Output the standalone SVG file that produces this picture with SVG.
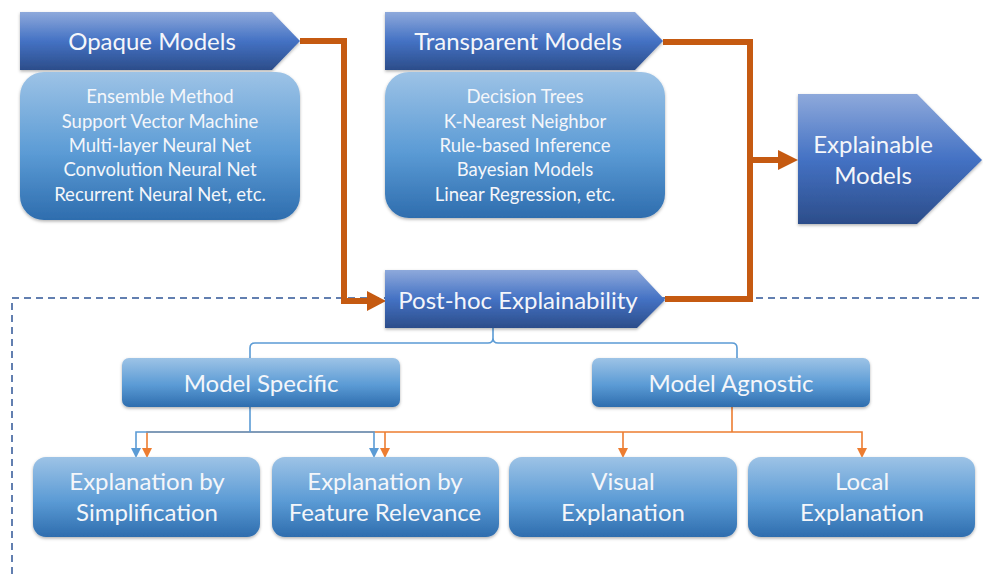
<svg xmlns="http://www.w3.org/2000/svg" width="983" height="574" viewBox="0 0 983 574">
<defs>
<linearGradient id="gHead" x1="0" y1="0" x2="0" y2="1">
<stop offset="0" stop-color="#8EA9DB"/>
<stop offset="0.5" stop-color="#4472C4"/>
<stop offset="1" stop-color="#2C4D8A"/>
</linearGradient>
<linearGradient id="gBox" x1="0" y1="0" x2="0" y2="1">
<stop offset="0" stop-color="#9DC3E6"/>
<stop offset="0.55" stop-color="#5B9BD5"/>
<stop offset="1" stop-color="#2E6DAE"/>
</linearGradient>
<filter id="sh" x="-10%" y="-10%" width="120%" height="130%">
<feDropShadow dx="0" dy="1.5" stdDeviation="1.5" flood-color="#000" flood-opacity="0.3"/>
</filter>
</defs>
<style>
.head{fill:url(#gHead);filter:url(#sh)}
.box{fill:url(#gBox);filter:url(#sh)}
text{font-family:Lato,"Open Sans","Liberation Sans",sans-serif;fill:#F4F6FA;text-anchor:middle}
.t1{font-size:24px}
.t2{font-size:18.5px}
.t3{font-size:24px}
.orange{fill:none;stroke:#C55A11;stroke-width:6}
.dash{fill:none;stroke:#2F5597;stroke-width:1.5;stroke-dasharray:7 5}
.thinb{fill:none;stroke:#5B9BD5;stroke-width:1.6}
.thino{fill:none;stroke:#ED7D31;stroke-width:1.6}
</style>
<rect width="983" height="574" fill="#FFFFFF"/>
<g id="connectors">
<path class="dash" d="M12,574 V298 H983"/>
<path class="orange" d="M300,41 H344 V301 H370"/>
<polygon points="367,291 386,301 367,311" fill="#C55A11"/>
<path class="orange" d="M663,42 H750 V299 H665"/>
<path class="orange" d="M750,160 H781"/>
<polygon points="778,150 798,160 778,170" fill="#C55A11"/>
<path class="thinb" d="M250,358 V348 Q250,343 255,343 H488 Q493,343 493,338 V328 M493,338 Q493,343 498,343 H732 Q737,343 737,348 V358"/>
<path class="thino" d="M732,407 V432 M147,449 V432 H862 V449 M385,432 V449 M623,432 V449"/>
<polygon points="142,448 152,448 147,458" fill="#ED7D31"/>
<polygon points="380,448 390,448 385,458" fill="#ED7D31"/>
<polygon points="618,448 628,448 623,458" fill="#ED7D31"/>
<polygon points="857,448 867,448 862,458" fill="#ED7D31"/>
<path class="thinb" d="M250,407 V432 M136,449 V432 H374 V449"/>
<polygon points="131,448 141,448 136,458" fill="#5B9BD5"/>
<polygon points="369,448 379,448 374,458" fill="#5B9BD5"/>
</g>
<g id="opaque-header">
<polygon class="head" points="20,12 272,12 300,41 272,70 20,70"/>
<text class="t1" x="152" y="50">Opaque Models</text>
</g>
<g id="opaque-list">
<rect class="box" x="20" y="72" width="280" height="148" rx="24"/>
<text class="t2" x="160" y="103">Ensemble Method</text>
<text class="t2" x="160" y="128">Support Vector Machine</text>
<text class="t2" x="160" y="152">Multi-layer Neural Net</text>
<text class="t2" x="160" y="176">Convolution Neural Net</text>
<text class="t2" x="160" y="201">Recurrent Neural Net, etc.</text>
</g>
<g id="transparent-header">
<polygon class="head" points="385,12 635,12 663,41 635,70 385,70"/>
<text class="t1" x="518" y="50">Transparent Models</text>
</g>
<g id="transparent-list">
<rect class="box" x="385" y="72" width="280" height="146" rx="24"/>
<text class="t2" x="525" y="103">Decision Trees</text>
<text class="t2" x="525" y="128">K-Nearest Neighbor</text>
<text class="t2" x="525" y="152">Rule-based Inference</text>
<text class="t2" x="525" y="176">Bayesian Models</text>
<text class="t2" x="525" y="201">Linear Regression, etc.</text>
</g>
<g id="explainable">
<polygon class="head" points="798,94 917,94 982,160 917,224 798,224"/>
<text class="t1" x="873" y="153">Explainable</text>
<text class="t1" x="873" y="184">Models</text>
</g>
<g id="posthoc">
<polygon class="head" points="385,270 637,270 665,300 637,328 385,328"/>
<text class="t1" x="518" y="309">Post-hoc Explainability</text>
</g>
<g id="model-specific">
<rect class="box" x="122" y="358" width="278" height="49" rx="7"/>
<text class="t1" x="261" y="392">Model Specific</text>
</g>
<g id="model-agnostic">
<rect class="box" x="592" y="358" width="278" height="49" rx="7"/>
<text class="t1" x="731" y="392">Model Agnostic</text>
</g>
<g id="simplification">
<rect class="box" x="33" y="457" width="227" height="80" rx="13"/>
<text class="t3" x="147" y="490">Explanation by</text>
<text class="t3" x="147" y="521">Simplification</text>
</g>
<g id="feature-relevance">
<rect class="box" x="272" y="457" width="227" height="80" rx="13"/>
<text class="t3" x="385" y="490">Explanation by</text>
<text class="t3" x="385" y="521">Feature Relevance</text>
</g>
<g id="visual">
<rect class="box" x="509" y="457" width="228" height="80" rx="13"/>
<text class="t3" x="623" y="490">Visual</text>
<text class="t3" x="623" y="521">Explanation</text>
</g>
<g id="local">
<rect class="box" x="748" y="457" width="227" height="80" rx="13"/>
<text class="t3" x="862" y="490">Local</text>
<text class="t3" x="862" y="521">Explanation</text>
</g>
</svg>
